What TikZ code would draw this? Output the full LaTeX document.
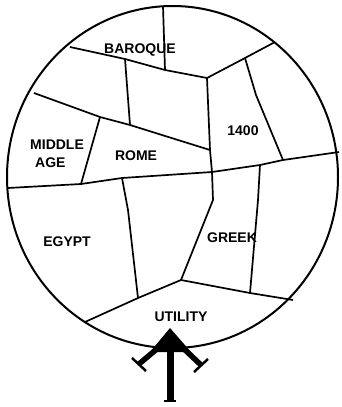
\documentclass[tikz,border=0pt]{standalone}
\usepackage{fontspec}
\setmainfont{Liberation Sans}
\begin{document}
\begin{tikzpicture}[x=1pt,y=-1pt,
  rim/.style={line width=2pt},
  seam/.style={line width=1.7pt, line join=round},
  lbl/.style={font=\bfseries\fontsize{14}{14}\selectfont, inner sep=0pt},
  arrowpart/.style={line width=7pt}]
\useasboundingbox (0,0) rectangle (341,407);
% outline
\draw[rim] (172.5,177) ellipse [x radius=165.5, y radius=171];
% coordinates
\coordinate (t0) at (163,6);
\coordinate (b1) at (70,47);
\coordinate (b2) at (125,59);
\coordinate (b3) at (165,70);
\coordinate (b4) at (207,78);
\coordinate (b5) at (245,58);
\coordinate (b6) at (275,42);
\coordinate (m1) at (34,93);
\coordinate (m2) at (100,117);
\coordinate (m3) at (130,125);
\coordinate (m4) at (210,150);
\coordinate (h0) at (8,188);
\coordinate (h1) at (81,184);
\coordinate (h2) at (122,178);
\coordinate (h3) at (212,172);
\coordinate (h4) at (260,165);
\coordinate (h5) at (283,160);
\coordinate (h6) at (339,152);
\coordinate (l0) at (85,322);
\coordinate (l1) at (138,298);
\coordinate (l2) at (181,280);
\coordinate (l3) at (250,293);
\coordinate (l4) at (293,300);
% seams
\draw[seam] (t0) -- (b3);
\draw[seam] (b1) -- (b2) -- (b3) -- (b4) -- (b5) -- (b6);
\draw[seam] (b4) -- (m4) -- (h3) -- (213,200) -- (l2);
\draw[seam] (b2) -- (m3);
\draw[seam] (m1) -- (m2) -- (m3) -- (m4);
\draw[seam] (m2) -- (h1);
\draw[seam] (h0) -- (h1) -- (h2) -- (h3) -- (h4) -- (h5) -- (h6);
\draw[seam] (b5) -- (256,95) -- (h5);
\draw[seam] (h4) -- (258,200) -- (l3);
\draw[seam] (h2) -- (128,210) -- (l1);
\draw[seam] (l0) -- (l1) -- (l2) -- (l3) -- (l4);
% labels
\node[lbl] (baroque) at (140,50) {BAROQUE};
\node[lbl] (c1400) at (243,131) {1400};
\node[lbl, anchor=west] (middle) at (30,145) {MIDDLE};
\node[lbl, anchor=west] (age) at (35,163) {AGE};
\node[lbl] (rome) at (136,156) {ROME};
\node[lbl] (egypt) at (67,242) {EGYPT};
\node[lbl] (greek) at (232,238) {GREEK};
\node[lbl] (utility) at (181,317) {UTILITY};
% arrow
\coordinate (tip) at (170,328);
\coordinate (foot) at (170,402);
\coordinate (armL) at (139,364);
\coordinate (armR) at (201,365);
\fill (tip) -- (150,352) -- (191,352) -- cycle;
\draw[arrowpart] (170,350) -- (foot);
\draw[line width=5.5pt] (158,348) -- (armL);
\draw[line width=5.5pt] (183,348) -- (armR);
\draw[line width=2.5pt] (132,358) -- (146,371);
\draw[line width=2.5pt] (208,359) -- (194,372);
\draw[line width=2pt] (164,401) -- (176,401);
\end{tikzpicture}
\end{document}
